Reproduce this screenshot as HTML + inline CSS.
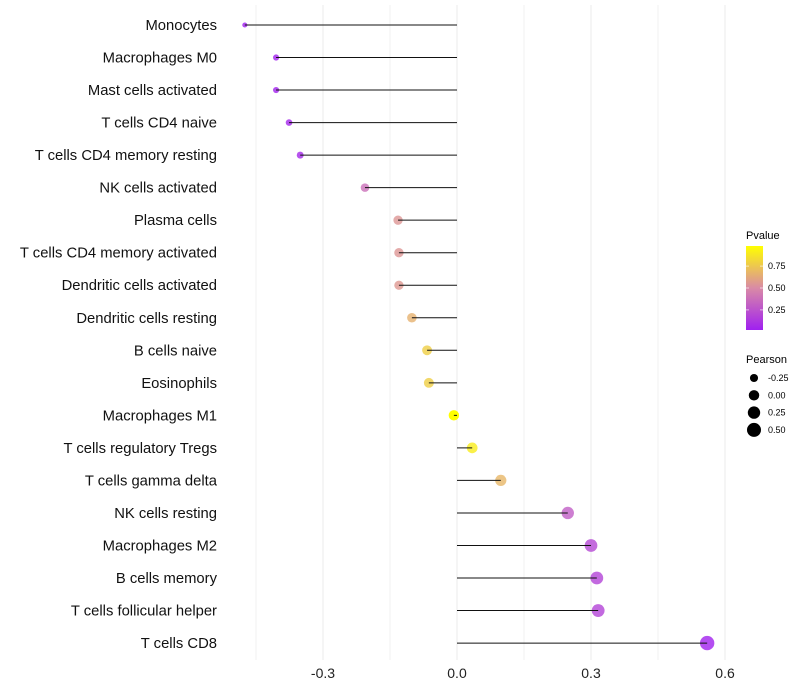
<!DOCTYPE html>
<html><head><meta charset="utf-8"><style>
body{margin:0;background:#fff;font-family:"Liberation Sans",sans-serif}
svg{display:block}
</style></head><body>
<svg id="chart" width="800" height="700">
<defs><linearGradient id="pg" x1="0" y1="1" x2="0" y2="0">
<stop offset="0" stop-color="#a020f0"/><stop offset="0.5" stop-color="#d98aa6"/><stop offset="1" stop-color="#ffff00"/>
</linearGradient></defs>
<g id="grid"></g>
<g id="marks"></g>
<g id="labels"></g>
<g id="xticks"></g>
<g>
<text x="746" y="239" font-size="11" fill="#000">Pvalue</text>
<rect x="746" y="246" width="17" height="84" fill="url(#pg)"/>
<g id="cbticks"></g>
</g>
<g id="sizeleg">
<text x="746" y="363" font-size="11" fill="#000">Pearson</text>
</g>
</svg>
<script>
const categories=["Monocytes","Macrophages M0","Mast cells activated","T cells CD4 naive","T cells CD4 memory resting","NK cells activated","Plasma cells","T cells CD4 memory activated","Dendritic cells activated","Dendritic cells resting","B cells naive","Eosinophils","Macrophages M1","T cells regulatory  Tregs ","T cells gamma delta","NK cells resting","Macrophages M2","B cells memory","T cells follicular helper","T cells CD8"];
const pearson=[-0.475,-0.405,-0.405,-0.376,-0.351,-0.206,-0.132,-0.130,-0.130,-0.101,-0.067,-0.063,-0.007,0.034,0.098,0.248,0.30,0.313,0.316,0.56];
const pvalue=[0.01,0.03,0.03,0.05,0.06,0.38,0.55,0.55,0.56,0.66,0.78,0.78,0.98,0.9,0.68,0.3,0.2,0.18,0.18,0.03];
const xTicks=[-0.3,0,0.3,0.6];
const xTickLabels=["-0.3","0.0","0.3","0.6"];
const xMinor=[-0.45,-0.15,0.15,0.45];
const cbTicks=[0.25,0.5,0.75];
const sizeTicks=[-0.25,0,0.25,0.5];
const NS="http://www.w3.org/2000/svg";
const X=v=>457+v*446.7;
const Y=i=>25+i*32.53;
const R=v=>Math.sqrt(Math.max(3,27.3+43.7*v));
const P2Y=p=>330-(p-0.02)/(0.96)*84;
function lerp(a,b,t){return a.map((x,k)=>Math.round(x+(b[k]-x)*t));}
function col(p){const t=Math.max(0,Math.min(1,(p-0.02)/0.96));const c0=[160,32,240],c1=[217,138,166],c2=[255,255,0];
const c=t<0.5?lerp(c0,c1,t*2):lerp(c1,c2,(t-0.5)*2);return `rgb(${c})`;}
function mk(tag,attrs,parent){const e=document.createElementNS(NS,tag);for(const k in attrs)e.setAttribute(k,attrs[k]);parent.appendChild(e);return e;}
const grid=document.getElementById('grid'),marks=document.getElementById('marks'),labels=document.getElementById('labels'),xt=document.getElementById('xticks');
xMinor.forEach(v=>{const l=mk('line',{x1:X(v),x2:X(v),y1:5,y2:660,stroke:'#f2f2f2','stroke-width':1},grid);

});
xTicks.forEach((v,i)=>{const l=mk('line',{x1:X(v),x2:X(v),y1:5,y2:660,stroke:'#ebebeb','stroke-width':1},grid);


const t=mk('text',{x:X(v),y:678,'font-size':14,'text-anchor':'middle',fill:'#222'},xt);t.textContent=xTickLabels[i];

});
categories.forEach((c,i)=>{
const y=Y(i);
const t=mk('text',{x:217,y:y+5,'font-size':14.8,'text-anchor':'end',fill:'#111','xml:space':'preserve'},labels);t.textContent=c;


const d=mk('circle',{cx:X(pearson[i]),cy:y,r:R(pearson[i]),fill:col(pvalue[i]),'fill-opacity':pvalue[i]>0.95?1:0.8},marks);


const s=mk('line',{x1:X(0),x2:X(pearson[i]),y1:y,y2:y,stroke:'#111','stroke-width':1},marks);


});
const cbt=document.getElementById('cbticks');
cbTicks.forEach(p=>{const y=P2Y(p);
const a=mk('line',{x1:746,x2:749,y1:y,y2:y,stroke:'#fff','stroke-opacity':0.6},cbt);
const b=mk('line',{x1:760,x2:763,y1:y,y2:y,stroke:'#fff','stroke-opacity':0.6},cbt);
const t=mk('text',{x:768,y:y+3,'font-size':9,fill:'#000'},cbt);t.textContent=p.toFixed(2);

});
const sl=document.getElementById('sizeleg');
sizeTicks.forEach((v,i)=>{const y=378+i*17.3;
const c=mk('circle',{cx:754,cy:y,r:R(v),fill:'#000'},sl);
const t=mk('text',{x:768,y:y+3,'font-size':9,fill:'#000'},sl);t.textContent=v.toFixed(2);

});
</script>
</body></html>
